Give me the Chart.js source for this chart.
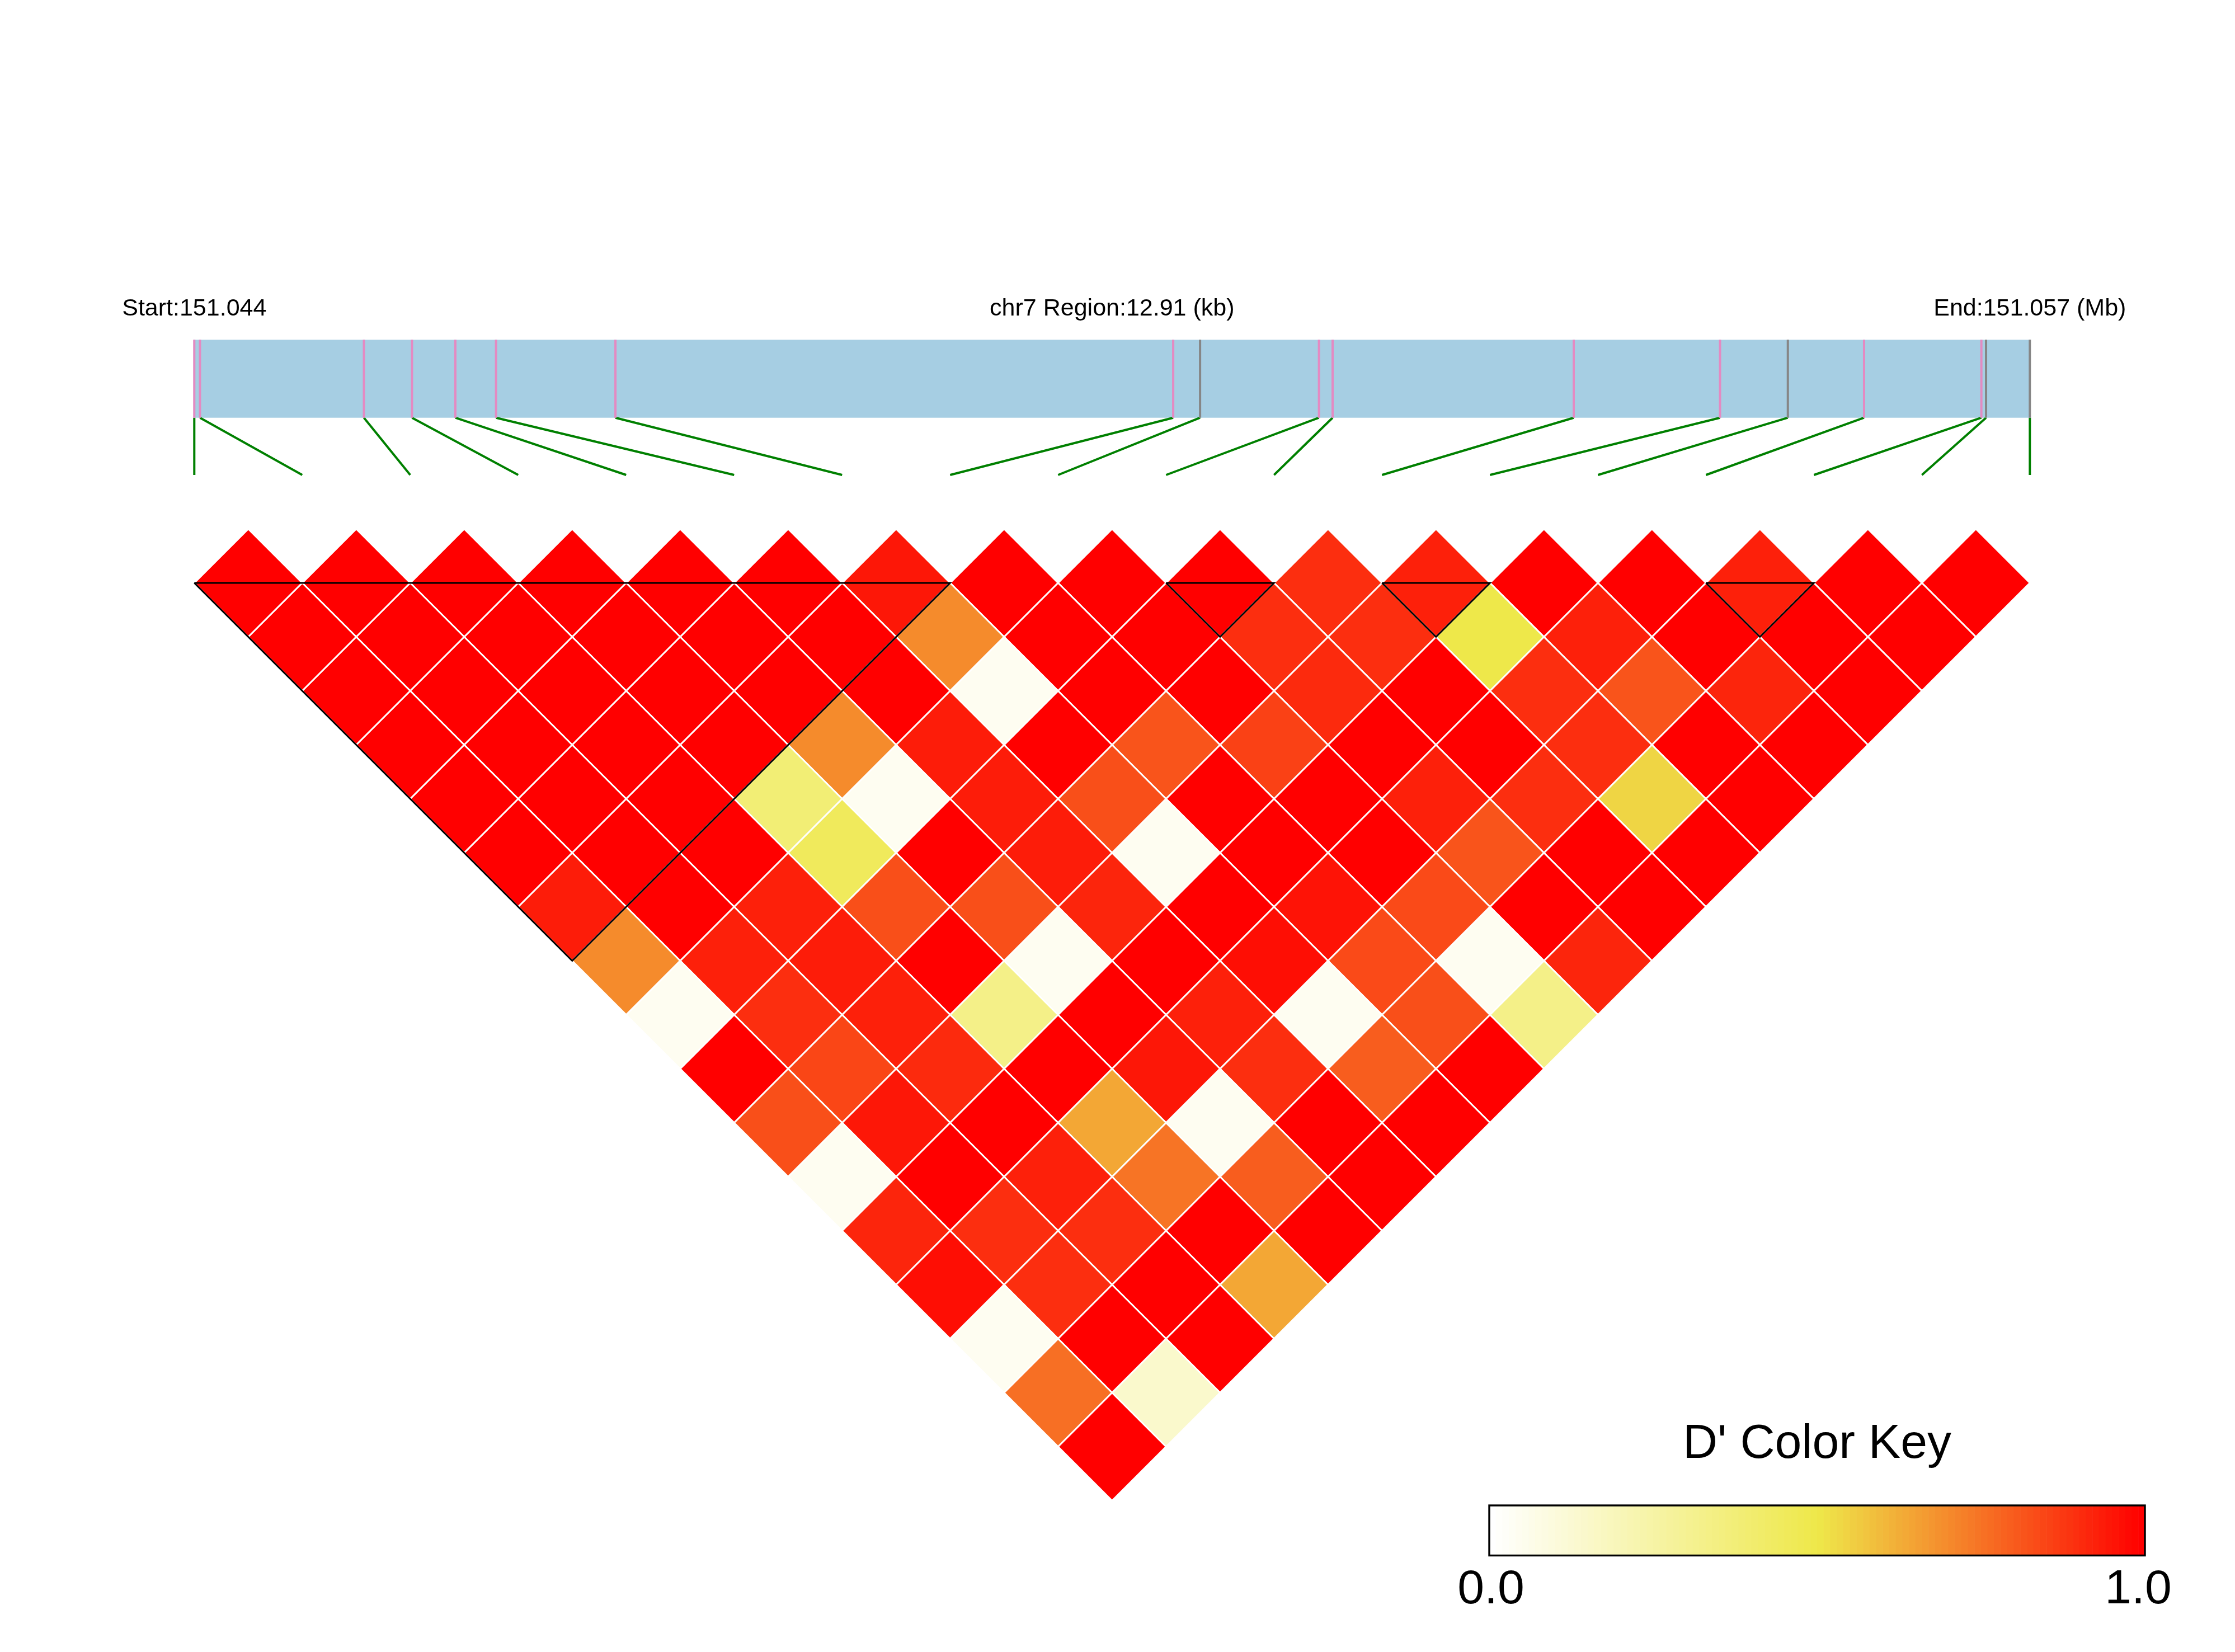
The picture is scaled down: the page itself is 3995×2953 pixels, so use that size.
<!DOCTYPE html>
<html>
<head>
<meta charset="utf-8">
<script src="https://cdn.jsdelivr.net/npm/chart.js@4.4.1/dist/chart.umd.min.js"></script>
<style>
html,body{margin:0;padding:0;background:#ffffff;}
canvas{display:block;}
</style>
</head>
<body>
<canvas id="c" width="3995" height="2953"></canvas>
<script>
// ---------------- DATA ----------------
const chrom = 'chr7';
// SNP physical positions (bp)
const snpPos = [151044000, 151044040, 151045193, 151045531, 151045836, 151046122,
                151046962, 151050885, 151051074, 151051910, 151052006, 151053702,
                151054731, 151055208, 151055744, 151056569, 151056602, 151056910];
// marker class of each SNP in the physical bar (pink / grey tick)
const snpClass = ['a','a','a','a','a','a','a','a','b','a','a','a','a','b','a','a','b','b'];

// D' values, row d holds pairs (SNP i, SNP i+d)
const dRow1  = [1,1,1,1,1,1,0.95,1,1,1,0.9,0.93,1,1,0.93,1,1];
const dRow2  = [1,1,1,1,1,1,0.7,1,1,0.9,0.9,0.5,0.93,1,1,1];
const dRow3  = [1,1,1,1,1,1,0.04,1,1,0.91,1,0.9,0.82,0.92,1];
const dRow4  = [1,1,1,1,0.7,0.94,1,0.82,0.86,1,1,0.9,1,1];
const dRow5  = [1,1,1,0.38,0.04,0.94,0.83,1,1,0.93,0.9,0.54,1];
const dRow6  = [1,1,1,0.45,1,0.94,0.04,1,1,0.82,1,1];
const dRow7  = [0.94,1,0.93,0.83,0.83,0.92,1,0.96,0.84,1,1];
const dRow8  = [0.7,0.93,0.94,1,0.04,1,0.97,0.84,0.04,0.92];
const dRow9  = [0.04,0.9,0.93,0.33,1,0.93,0.04,0.83,0.33];
const dRow10 = [1,0.85,0.91,1,0.95,0.9,0.8,1];
const dRow11 = [0.83,0.95,1,0.64,0.04,1,1];
const dRow12 = [0.04,1,0.93,0.75,0.8,1];
const dRow13 = [0.92,0.9,0.9,1,1];
const dRow14 = [0.97,0.9,1,0.64];
const dRow15 = [0.04,1,1];
const dRow16 = [0.76,0.14];
const dRow17 = [1];

// LD blocks (first SNP index, last SNP index)
const blockStart = [0, 9, 11, 14];
const blockEnd   = [7, 10, 12, 15];

const keyTitle = "D' Color Key";
const keyTicks = ['0.0', '1.0'];

// ---------------- HELPERS ----------------
const dRows = [dRow1,dRow2,dRow3,dRow4,dRow5,dRow6,dRow7,dRow8,dRow9,dRow10,dRow11,dRow12,dRow13,dRow14,dRow15,dRow16,dRow17];
const nS = snpPos.length;
const span = snpPos[nS-1] - snpPos[0];
const physX = p => (p - snpPos[0]) / span * (nS - 1);

function dpRGB(v){
  const W=[255,255,255], Y=[238,232,74], R=[255,0,0];
  let a,b,t;
  if (v <= 0.5){ a=W; b=Y; t=v/0.5; } else { a=Y; b=R; t=(v-0.5)/0.5; }
  return [0,1,2].map(k => Math.round(a[k] + (b[k]-a[k])*t));
}
const dpColor = v => { const c = dpRGB(v); return `rgb(${c[0]},${c[1]},${c[2]})`; };

// cells in SNP-index coordinates
const cells = [];
dRows.forEach((row, k) => {
  const d = k + 1;
  row.forEach((v, i) => cells.push({x: i + d/2, y: (d-1)/2, v: v}));
});

// block outlines
const blockPts = [];
blockStart.forEach((s, k) => {
  const e = blockEnd[k];
  blockPts.push({x:s,y:0},{x:e,y:0},{x:(s+e)/2,y:(e-s)/2},{x:s,y:0},{x:null,y:null});
});

// bar geometry (in y units of the heatmap scale)
const BAR_TOP = -2.252, BAR_BOT = -1.530, LINK_BOT = -1.0, LABEL_Y = -2.477;

const linkPts = [], tickA = [], tickB = [];
snpPos.forEach((p, i) => {
  const px = physX(p);
  linkPts.push({x:px,y:BAR_BOT},{x:i,y:LINK_BOT},{x:null,y:null});
  const arr = snpClass[i] === 'a' ? tickA : tickB;
  arr.push({x:px,y:BAR_TOP},{x:px,y:BAR_BOT},{x:null,y:null});
});

// ---------------- LAYOUT ----------------
const W = 3995, H = 2953;
const X0 = 347.3, UNIT = 193.0, Y0 = 1042;

const FONT = '"Liberation Sans", Arial, Helvetica, sans-serif';

const barPlugin = {
  id: 'physBar',
  beforeDatasetsDraw(chart){
    const {ctx, scales:{x, y}} = chart;
    ctx.save();
    ctx.fillStyle = '#A6CEE3';
    const l = x.getPixelForValue(0), r = x.getPixelForValue(nS-1);
    const t = y.getPixelForValue(BAR_TOP), b = y.getPixelForValue(BAR_BOT);
    ctx.fillRect(l - 1.5, t, r - l + 3, b - t);
    ctx.restore();
  },
  afterDatasetsDraw(chart){
    const {ctx, scales:{x, y}} = chart;
    ctx.save();
    ctx.fillStyle = '#000';
    ctx.font = '43px ' + FONT;
    ctx.textAlign = 'center';
    ctx.textBaseline = 'alphabetic';
    const ty = y.getPixelForValue(LABEL_Y);
    ctx.fillText('Start:' + (snpPos[0]/1e6).toFixed(3), x.getPixelForValue(0), ty);
    ctx.fillText(chrom + ' Region:' + (span/1000).toFixed(2) + ' (kb)', x.getPixelForValue((nS-1)/2), ty);
    ctx.fillText('End:' + (snpPos[nS-1]/1e6).toFixed(3) + ' (Mb)', x.getPixelForValue(nS-1), ty);

    // colour key
    const kl = 2662, kr = 3834, kt = 2691, kb = 2780.5;
    const steps = 100;
    for (let s = 0; s < steps; s++){
      const v = s/(steps-1);
      ctx.fillStyle = dpColor(v);
      const x0 = kl + (kr-kl)*s/steps;
      ctx.fillRect(x0, kt, (kr-kl)/steps + 0.6, kb-kt);
    }
    ctx.strokeStyle = '#000';
    ctx.lineWidth = 3.4;
    ctx.strokeRect(kl, kt, kr-kl, kb-kt);
    ctx.fillStyle = '#000';
    ctx.font = '86px ' + FONT;
    ctx.fillText(keyTitle, (kl+kr)/2, 2606);
    ctx.fillText(keyTicks[0], 2665, 2866);
    ctx.fillText(keyTicks[1], 3822, 2866);
    ctx.restore();
  }
};

const halfCell = ctx => {
  const sx = ctx.chart.scales.x;
  return Math.abs(sx.getPixelForValue(0.5) - sx.getPixelForValue(0));
};

new Chart(document.getElementById('c'), {
  type: 'scatter',
  data: {
    datasets: [
      { // block outlines
        data: blockPts, showLine: true, borderColor: '#000', borderWidth: 3,
        pointRadius: 0, fill: false, spanGaps: false, order: 1,
        borderJoinStyle: 'miter', borderCapStyle: 'butt'
      },
      { // pink ticks
        data: tickA, showLine: true, borderColor: '#E48AC2', borderWidth: 4,
        pointRadius: 0, fill: false, spanGaps: false, order: 2, borderCapStyle: 'butt'
      },
      { // grey ticks
        data: tickB, showLine: true, borderColor: '#868686', borderWidth: 4,
        pointRadius: 0, fill: false, spanGaps: false, order: 2, borderCapStyle: 'butt'
      },
      { // links physical -> SNP index
        data: linkPts, showLine: true, borderColor: '#008000', borderWidth: 4,
        pointRadius: 0, fill: false, spanGaps: false, order: 3, borderCapStyle: 'butt'
      },
      { // LD cells
        data: cells, showLine: false, order: 5,
        pointStyle: 'rectRot',
        pointRadius: halfCell, pointHoverRadius: halfCell,
        backgroundColor: c => dpColor(c.raw.v),
        hoverBackgroundColor: c => dpColor(c.raw.v),
        borderColor: '#ffffff', hoverBorderColor: '#ffffff',
        borderWidth: 3, hoverBorderWidth: 3
      }
    ]
  },
  options: {
    responsive: false,
    animation: false,
    events: [],
    layout: { padding: 0 },
    plugins: { legend: {display:false}, tooltip: {enabled:false}, title: {display:false} },
    scales: {
      x: { type:'linear', display:false, min: -X0/UNIT, max: (W - X0)/UNIT, bounds:'data' },
      y: { type:'linear', display:false, reverse:true, min: -Y0/UNIT, max: (H - Y0)/UNIT, bounds:'data' }
    }
  },
  plugins: [barPlugin]
});
</script>
</body>
</html>
